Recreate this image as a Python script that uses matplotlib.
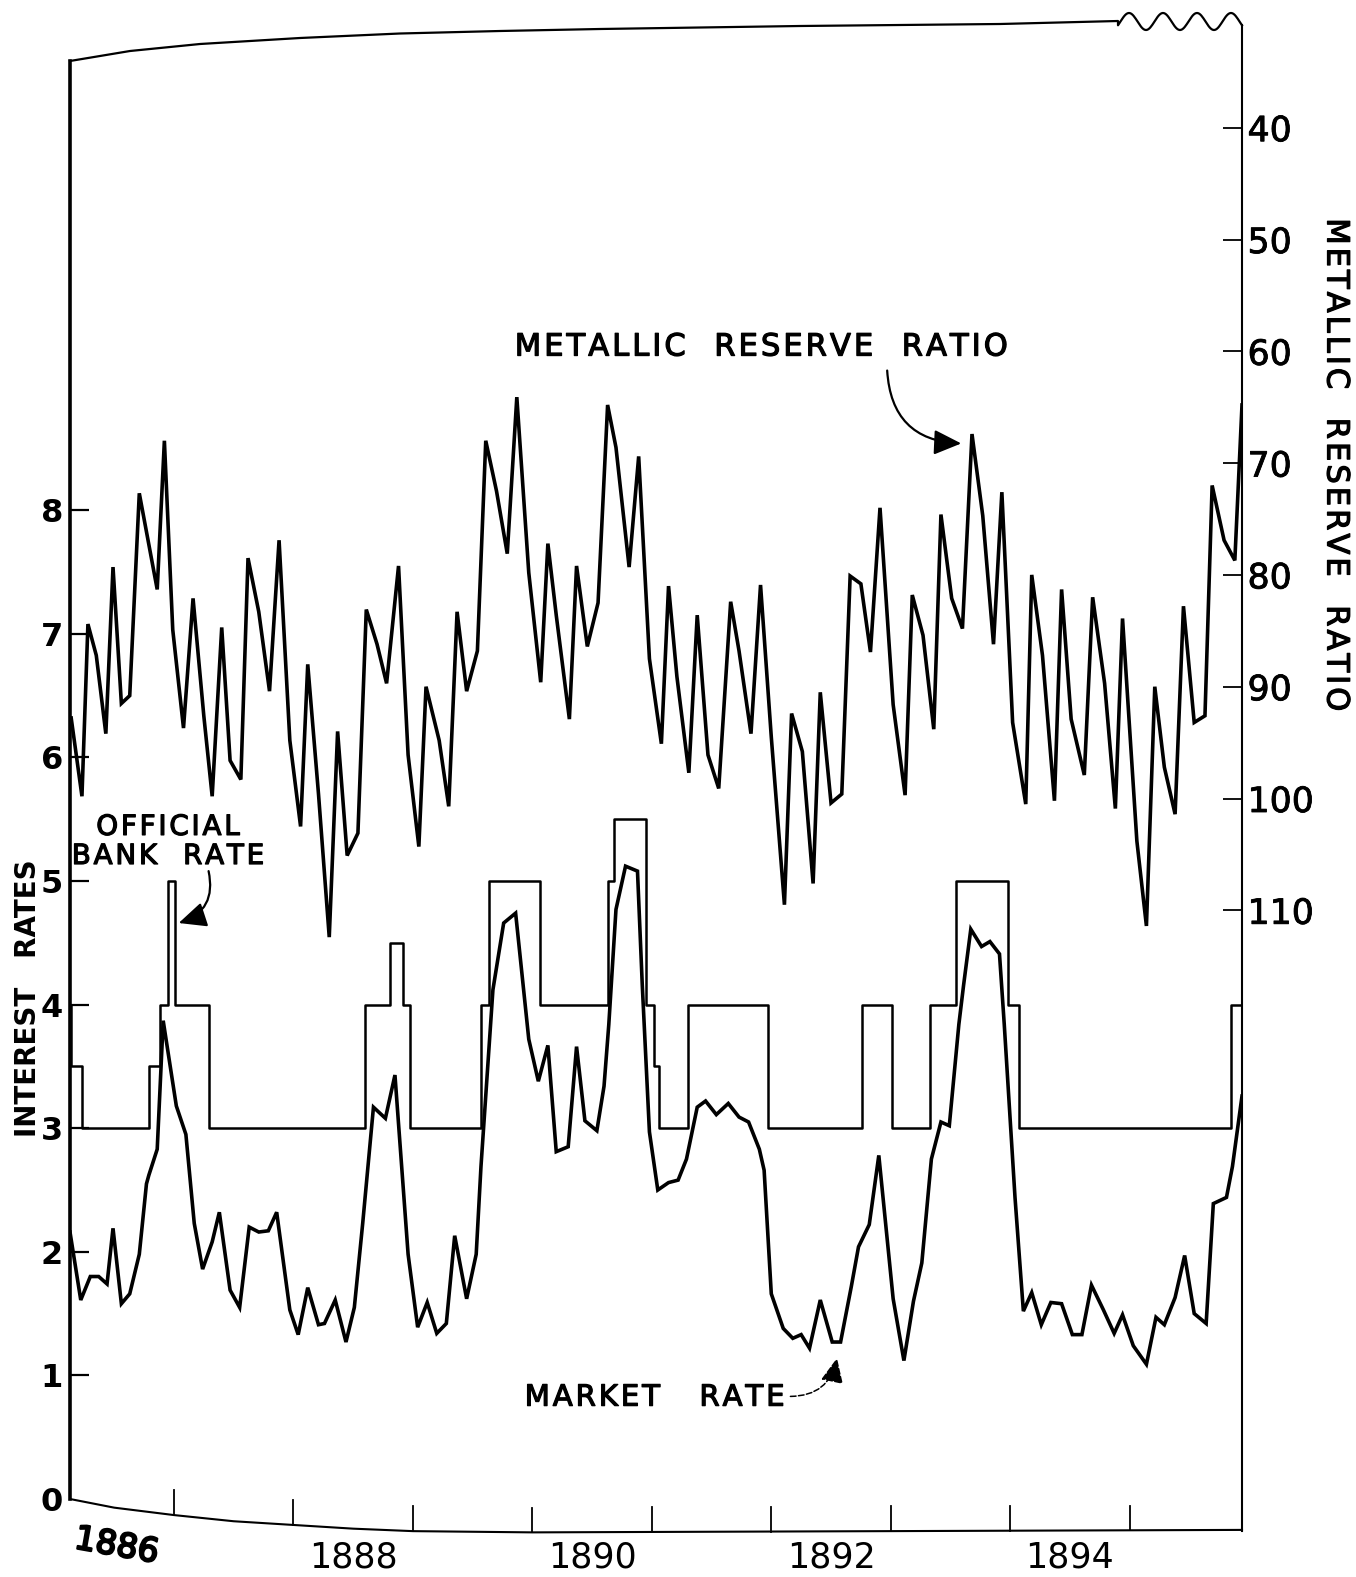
import numpy as np
import matplotlib
matplotlib.use("Agg")
import matplotlib.pyplot as plt
import matplotlib.patheffects as pe
from matplotlib.lines import Line2D

plt.rcParams['font.family'] = ['DejaVu Sans']

FIG_W, FIG_H = 1356, 1577

# metallic reserve ratio (right axis, inverted), roughly monthly
reserve_years = [
    1886.14, 1886.23, 1886.28, 1886.35, 1886.43, 1886.49, 1886.56, 1886.63, 1886.71, 1886.86,
    1886.92, 1886.99, 1887.08, 1887.16, 1887.25, 1887.32, 1887.40, 1887.47, 1887.56, 1887.62,
    1887.71, 1887.80, 1887.88, 1887.97, 1888.06, 1888.12, 1888.21, 1888.30, 1888.37, 1888.45,
    1888.54, 1888.61, 1888.70, 1888.78, 1888.88, 1888.96, 1889.05, 1889.11, 1889.22, 1889.30,
    1889.37, 1889.45, 1889.54, 1889.61, 1889.70, 1889.79, 1889.87, 1889.97, 1890.07, 1890.13,
    1890.20, 1890.31, 1890.37, 1890.46, 1890.55, 1890.63, 1890.70, 1890.81, 1890.89, 1890.98,
    1891.08, 1891.14, 1891.21, 1891.31, 1891.38, 1891.47, 1891.56, 1891.66, 1891.73, 1891.83,
    1891.91, 1892.00, 1892.11, 1892.17, 1892.26, 1892.35, 1892.41, 1892.50, 1892.59, 1892.66,
    1892.75, 1892.83, 1892.91, 1893.02, 1893.12, 1893.18, 1893.27, 1893.36, 1893.42, 1893.51,
    1893.60, 1893.68, 1893.77, 1893.86, 1893.93, 1894.02, 1894.13, 1894.18, 1894.27, 1894.37,
    1894.43, 1894.51, 1894.62, 1894.69, 1894.79, 1894.88, 1894.94, 1895.06, 1895.14, 1895.21,
    1895.29, 1895.38, 1895.45, 1895.54, 1895.63, 1895.69, 1895.79, 1895.88, 1895.94,
]
reserve_ratio = [
    92.8, 99.8, 84.4, 87.2, 94.2, 79.3, 91.5, 90.8, 72.7, 81.3,
    68.0, 84.9, 93.7, 82.1, 92.6, 99.8, 84.7, 96.6, 98.3, 78.5,
    83.3, 90.4, 76.9, 94.8, 102.5, 88.0, 99.6, 112.4, 94.0, 105.1,
    103.1, 83.1, 86.2, 89.7, 79.2, 96.1, 104.3, 90.0, 94.8, 100.7,
    83.3, 90.4, 86.8, 68.0, 72.5, 78.1, 64.1, 79.8, 89.6, 77.2,
    83.6, 92.9, 79.2, 86.4, 82.5, 64.8, 68.6, 79.3, 69.4, 87.5,
    95.1, 81.0, 89.1, 97.7, 83.6, 96.1, 99.1, 82.4, 86.8, 94.2,
    80.9, 94.5, 109.5, 92.4, 95.8, 107.6, 90.5, 100.4, 99.6, 80.1,
    80.8, 86.9, 74.0, 91.6, 99.7, 81.8, 85.4, 93.8, 74.6, 82.1,
    84.8, 67.4, 74.7, 86.2, 72.6, 93.2, 100.5, 80.0, 87.2, 100.2,
    81.3, 92.9, 97.9, 82.0, 89.7, 100.9, 83.9, 103.8, 111.4, 90.0,
    97.2, 101.4, 82.8, 93.2, 92.6, 72.0, 76.9, 78.7, 64.8,
]

# official bank rate, step changes (last entry closes the final step)
bank_years = [
    1886.13, 1886.14, 1886.23, 1886.79, 1886.88, 1886.95, 1887.01, 1887.29, 1888.60, 1888.81,
    1888.92, 1888.98, 1889.57, 1889.64, 1890.06, 1890.63, 1890.68, 1890.95, 1891.02, 1891.06,
    1891.30, 1891.97, 1892.76, 1893.01, 1893.33, 1893.55, 1893.98, 1894.07, 1895.85, 1895.94,
]
bank_rate = [
    4.0, 3.5, 3.0, 3.5, 4.0, 5.0, 4.0, 3.0, 4.0, 4.5,
    4.0, 3.0, 4.0, 5.0, 4.0, 5.0, 5.5, 4.0, 3.5, 3.0,
    4.0, 3.0, 4.0, 3.0, 4.0, 5.0, 4.0, 3.0, 4.0, 4.0,
]

# market rate of discount
market_years = [
    1886.13, 1886.22, 1886.30, 1886.37, 1886.44, 1886.49, 1886.56, 1886.63, 1886.71, 1886.77,
    1886.79, 1886.86, 1886.91, 1887.02, 1887.10, 1887.17, 1887.24, 1887.32, 1887.38, 1887.47,
    1887.55, 1887.63, 1887.71, 1887.79, 1887.86, 1887.97, 1888.04, 1888.12, 1888.21, 1888.26,
    1888.35, 1888.44, 1888.51, 1888.58, 1888.67, 1888.77, 1888.85, 1888.96, 1889.04, 1889.12,
    1889.20, 1889.28, 1889.35, 1889.45, 1889.53, 1889.57, 1889.67, 1889.76, 1889.86, 1889.97,
    1890.05, 1890.13, 1890.20, 1890.30, 1890.37, 1890.44, 1890.54, 1890.60, 1890.64, 1890.70,
    1890.78, 1890.88, 1890.92, 1890.98, 1891.05, 1891.14, 1891.22, 1891.29, 1891.38, 1891.45,
    1891.54, 1891.64, 1891.73, 1891.81, 1891.90, 1891.94, 1892.00, 1892.10, 1892.18, 1892.25,
    1892.32, 1892.41, 1892.51, 1892.58, 1892.67, 1892.73, 1892.82, 1892.90, 1893.02, 1893.11,
    1893.19, 1893.26, 1893.34, 1893.42, 1893.49, 1893.57, 1893.61, 1893.67, 1893.76, 1893.83,
    1893.91, 1893.95, 1894.04, 1894.11, 1894.18, 1894.26, 1894.34, 1894.43, 1894.52, 1894.60,
    1894.68, 1894.78, 1894.87, 1894.94, 1895.03, 1895.14, 1895.22, 1895.29, 1895.38, 1895.46,
    1895.54, 1895.64, 1895.70, 1895.81, 1895.86, 1895.94,
]
market_rate = [
    2.16, 1.61, 1.80, 1.80, 1.74, 2.19, 1.58, 1.66, 1.98, 2.55,
    2.62, 2.83, 3.87, 3.18, 2.95, 2.23, 1.86, 2.08, 2.32, 1.69,
    1.55, 2.20, 2.16, 2.17, 2.32, 1.53, 1.33, 1.71, 1.41, 1.42,
    1.61, 1.27, 1.55, 2.23, 3.17, 3.08, 3.43, 1.98, 1.39, 1.59,
    1.34, 1.42, 2.13, 1.62, 1.98, 2.69, 4.12, 4.66, 4.74, 3.72,
    3.38, 3.67, 2.81, 2.85, 3.66, 3.06, 2.98, 3.34, 3.84, 4.77,
    5.12, 5.08, 4.16, 2.97, 2.50, 2.56, 2.58, 2.75, 3.17, 3.22,
    3.11, 3.20, 3.09, 3.05, 2.83, 2.66, 1.66, 1.38, 1.30, 1.33,
    1.22, 1.61, 1.27, 1.27, 1.72, 2.04, 2.22, 2.78, 1.62, 1.12,
    1.60, 1.91, 2.75, 3.05, 3.02, 3.84, 4.16, 4.61, 4.47, 4.51,
    4.41, 3.84, 2.44, 1.52, 1.67, 1.41, 1.59, 1.58, 1.33, 1.33,
    1.73, 1.53, 1.34, 1.49, 1.24, 1.09, 1.47, 1.41, 1.63, 1.97,
    1.50, 1.42, 2.39, 2.44, 2.69, 3.26,
]

rate_ticks = list(range(0, 9))
ratio_ticks = list(range(40, 111, 10))
year_ticks = list(range(1887, 1896))
year_labels = [1886, 1888, 1890, 1892, 1894]

# hand-drawn bottom edge of the frame (in interest-rate units)
frame_years = [1886.13, 1886.5, 1887, 1887.5, 1888, 1888.5, 1889, 1889.5, 1890, 1895.94]
frame_drop = [0, -0.07, -0.13, -0.18, -0.21, -0.24, -0.26, -0.265, -0.27, -0.25]

HEAVY = [pe.withStroke(linewidth=0.9, foreground='black')]


def px(x, y):
    return x / FIG_W, 1 - y / FIG_H


def tracked(s, sp='\u200a'):
    return sp.join(s)


fig = plt.figure(figsize=(FIG_W / 100, FIG_H / 100), dpi=100)
left, bottom = px(70, 1499)
ax = fig.add_axes([left, bottom, 1172 / FIG_W, 1438 / FIG_H])
ax.set_xlim(1886.13, 1895.94)
ax.set_ylim(0, 1438 / 123.6)
ax.patch.set_visible(False)

ax2 = ax.twinx()
ax2.set_ylim(40 + (1499 - 127.7) / 11.18, 40 - (127.7 - 61) / 11.18)
ax2.patch.set_visible(False)

for s in ['top', 'bottom', 'right']:
    ax.spines[s].set_visible(False)
ax.spines['left'].set_linewidth(2.6)
for s in ax2.spines.values():
    s.set_visible(False)

ax.set_xticks([])
ax.set_yticks(rate_ticks)
ax.set_yticklabels([str(v) for v in rate_ticks], fontweight='bold', fontsize=23)
ax.tick_params(axis='y', direction='in', length=14, width=1.6, pad=5)
ax.yaxis.get_major_ticks()[0].tick1line.set_visible(False)

ax2.set_yticks(ratio_ticks)
ax2.set_yticklabels([str(v) for v in ratio_ticks], fontsize=25)
ax2.tick_params(axis='y', direction='in', length=14, width=1.3, pad=4)
for lab in ax2.get_yticklabels():
    lab.set_path_effects([pe.withStroke(linewidth=0.6, foreground='black')])

# series
ax2.plot(reserve_years, reserve_ratio, color='black', lw=2.6, solid_joinstyle='miter')
ax.step(bank_years, bank_rate, where='post', color='black', lw=1.8)
ax.plot(market_years, market_rate, color='black', lw=2.6, solid_joinstyle='miter')

# frame: bottom curve with year ticks
ax.plot(frame_years, frame_drop, color='black', lw=1.5, clip_on=False)
for yr in year_ticks:
    y0 = np.interp(yr, frame_years, frame_drop)
    ax.plot([yr, yr], [y0, y0 + 0.2], color='black', lw=1.3, clip_on=False)
for yr in year_labels:
    if yr == 1886:
        ax.text(yr + 0.52, -0.38, str(yr), fontsize=24, rotation=-10, ha='center', va='center',
                clip_on=False, path_effects=[pe.withStroke(linewidth=1.6, foreground='black')])
    else:
        ax.text(yr + 0.5, -0.47, str(yr), fontsize=25, ha='center', va='center', clip_on=False)

# frame: top edge with the wavy break, and right axis line
top_x = [70, 130, 200, 300, 400, 500, 600, 800, 1000, 1118]
top_y = [61, 51, 44, 38, 33.5, 31, 29, 26, 24, 21]
wave_x = np.linspace(1118, 1242, 120)
wave_y = 21.5 - 8.5 * np.cos(2 * np.pi * (wave_x - 1129) / 34)
tx = np.concatenate([top_x, wave_x])
ty = np.concatenate([top_y, wave_y])
fx, fy = px(tx, ty)
fig.add_artist(Line2D(fx, fy, color='black', lw=1.6))
rx, ry = px(np.array([1242, 1242]), np.array([wave_y[-1], 1531]))
fig.add_artist(Line2D(rx, ry, color='black', lw=1.5))

# axis titles
fig.text(*px(28, 998), 'INTEREST   RATES', rotation=90, fontsize=20, fontweight='bold',
         ha='center', va='center')
fig.text(*px(1336, 464), tracked('METALLIC  RESERVE  RATIO'), rotation=270, fontsize=22,
         ha='center', va='center', path_effects=HEAVY)

# annotations
head = '-|>,head_length=0.7,head_width=0.32'
ax.text(1891.91, 9.32, tracked('METALLIC  RESERVE  RATIO'), fontsize=22, ha='center',
        va='center', path_effects=HEAVY)
ax.annotate('', xy=(1893.59, 8.54), xytext=(1892.97, 9.13),
            arrowprops=dict(arrowstyle=head, color='black', lw=1.6,
                            connectionstyle='arc3,rad=0.45', shrinkA=0, shrinkB=0,
                            mutation_scale=24))

ax.text(1886.95, 5.32, tracked('OFFICIAL') + '\n' + tracked('BANK  RATE'),
        fontsize=20, ha='center', va='center', linespacing=1.05, path_effects=HEAVY)
ax.annotate('', xy=(1887.04, 4.66), xytext=(1887.29, 5.08),
            arrowprops=dict(arrowstyle=head, color='black', lw=1.6,
                            connectionstyle='arc3,rad=-0.45', shrinkA=0, shrinkB=0,
                            mutation_scale=24))

ax.text(1891.02, 0.82, tracked('MARKET   RATE'), fontsize=21, ha='center', va='center',
        path_effects=HEAVY)
ax.annotate('', xy=(1892.55, 1.14), xytext=(1892.16, 0.83),
            arrowprops=dict(arrowstyle=head, color='black', lw=1.1, ls='--',
                            connectionstyle='arc3,rad=0.4', shrinkA=0, shrinkB=0,
                            mutation_scale=22))

fig.savefig('out.png', dpi=100)
